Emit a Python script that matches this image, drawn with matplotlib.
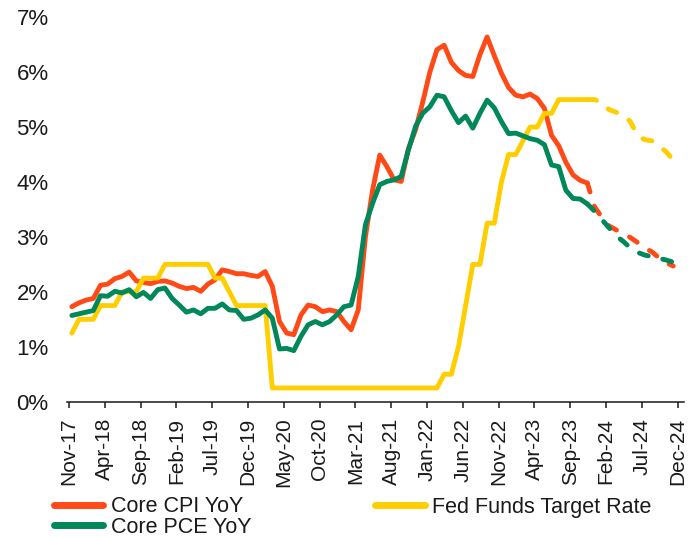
import numpy as np
import matplotlib.pyplot as plt
from matplotlib.lines import Line2D

plt.rcParams['font.family'] = ['Liberation Sans', 'DejaVu Sans']

# monthly, Nov-17 .. Dec-24
tick_labels = ['Nov-17', 'Apr-18', 'Sep-18', 'Feb-19', 'Jul-19', 'Dec-19',
               'May-20', 'Oct-20', 'Mar-21', 'Aug-21', 'Jan-22', 'Jun-22',
               'Nov-22', 'Apr-23', 'Sep-23', 'Feb-24', 'Jul-24', 'Dec-24']

# actuals, Nov-17 .. Nov-23
core_cpi = [1.73, 1.80, 1.85, 1.88, 2.12, 2.14, 2.24, 2.28, 2.36, 2.20,
            2.17, 2.15, 2.19, 2.20, 2.16, 2.10, 2.06, 2.08, 2.01, 2.14,
            2.22, 2.40, 2.37, 2.33, 2.33, 2.30, 2.28, 2.37, 2.10, 1.46,
            1.25, 1.22, 1.58, 1.76, 1.73, 1.64, 1.67, 1.64, 1.46, 1.31,
            1.67, 3.00, 3.85, 4.49, 4.28, 4.04, 4.01, 4.60, 4.95, 5.45,
            6.00, 6.41, 6.49, 6.18, 6.03, 5.94, 5.92, 6.32, 6.64, 6.30,
            5.98, 5.72, 5.58, 5.55, 5.60, 5.52, 5.34, 4.85, 4.66, 4.36,
            4.13, 4.03, 3.98]
core_pce = [1.57, 1.60, 1.63, 1.66, 1.93, 1.92, 2.01, 1.98, 2.04, 1.91,
            1.99, 1.88, 2.04, 2.07, 1.88, 1.76, 1.63, 1.67, 1.60, 1.70,
            1.70, 1.78, 1.67, 1.66, 1.50, 1.52, 1.58, 1.67, 1.52, 0.96,
            0.97, 0.93, 1.19, 1.40, 1.46, 1.40, 1.46, 1.58, 1.73, 1.76,
            2.28, 3.22, 3.61, 3.95, 4.01, 4.04, 4.10, 4.58, 5.01, 5.25,
            5.37, 5.58, 5.55, 5.30, 5.08, 5.20, 4.98, 5.25, 5.49, 5.35,
            5.10, 4.88, 4.89, 4.84, 4.79, 4.76, 4.68, 4.31, 4.28, 3.85,
            3.70, 3.69, 3.60]
fed_funds = [1.25, 1.50, 1.50, 1.50, 1.75, 1.75, 1.75, 2.00, 2.00, 2.00,
             2.25, 2.25, 2.25, 2.50, 2.50, 2.50, 2.50, 2.50, 2.50, 2.50,
             2.25, 2.25, 2.00, 1.75, 1.75, 1.75, 1.75, 1.75, 0.25, 0.25,
             0.25, 0.25, 0.25, 0.25, 0.25, 0.25, 0.25, 0.25, 0.25, 0.25,
             0.25, 0.25, 0.25, 0.25, 0.25, 0.25, 0.25, 0.25, 0.25, 0.25,
             0.25, 0.25, 0.50, 0.50, 1.00, 1.75, 2.50, 2.50, 3.25, 3.25,
             4.00, 4.50, 4.50, 4.75, 5.00, 5.00, 5.25, 5.25, 5.50, 5.50,
             5.50, 5.50, 5.50]

# projections, starting from the last actual (Nov-23)
core_cpi_fcst = [3.98, 3.55, 3.36, 3.20, 3.13, 3.06, 2.99, 2.90, 2.80,
                 2.73, 2.62, 2.53, 2.47]
core_pce_fcst = [3.60, 3.47, 3.32, 3.17, 3.02, 2.92, 2.80, 2.72, 2.67,
                 2.64, 2.61, 2.58, 2.54, 2.51]
fed_funds_fcst = [5.50, 5.50, 5.45, 5.32, 5.27, 5.23, 5.10, 4.85, 4.77,
                  4.75, 4.66, 4.55, 4.40, 4.30]

RED = '#FF4A17'
GREEN = '#00875A'
YELLOW = '#FFCE00'
INK = '#1a1a1a'

MID = 0.4  # points sit mid-month, ticks at month start
n_act = len(core_cpi)
x_act = np.arange(n_act) + MID
start = n_act - 1

fig = plt.figure(figsize=(6.99, 5.38), dpi=100)
ax = fig.add_axes([66.7 / 699, 1 - 401.7 / 538, (684 - 66.7) / 699, (401.7 - 17.2) / 538])

lw = 3.5
dash = dict(lw=lw, dashes=(1.9, 3.05), dash_capstyle='round', solid_joinstyle='round')
solid = dict(lw=lw, solid_capstyle='round', solid_joinstyle='round')

ax.plot(x_act, core_cpi, color=RED, **solid)
ax.plot(np.arange(len(core_cpi_fcst)) + start + MID, core_cpi_fcst, color=RED, **dash)
ax.plot(x_act, fed_funds, color=YELLOW, **solid)
ax.plot(np.arange(len(fed_funds_fcst)) + start + MID, fed_funds_fcst, color=YELLOW, **dash)
ax.plot(x_act, core_pce, color=GREEN, **solid)
ax.plot(np.arange(len(core_pce_fcst)) + start + MID, core_pce_fcst, color=GREEN, **dash)

ax.set_xlim(-0.32, 85.9)
ax.set_ylim(0, 7)
ax.set_xticks(np.arange(len(tick_labels)) * 5)
ax.set_xticklabels(tick_labels, rotation=90, fontsize=15, color=INK)
ax.set_yticks(range(8))
ax.set_yticklabels([f'{v}%' for v in range(8)], fontsize=16, color=INK)
ax.tick_params(axis='y', length=0, pad=13)
ax.tick_params(axis='x', length=4, width=1.1, color=INK, pad=7.5)

for s in ['top', 'right', 'left']:
    ax.spines[s].set_visible(False)
ax.spines['bottom'].set_color(INK)
ax.spines['bottom'].set_linewidth(1.1)

h_cpi = Line2D([], [], color=RED, lw=5, solid_capstyle='round')
h_pce = Line2D([], [], color=GREEN, lw=5, solid_capstyle='round')
h_fed = Line2D([], [], color=YELLOW, lw=5, solid_capstyle='round')

leg_kw = dict(frameon=False, fontsize=15.5, handlelength=2.32, handletextpad=0.35,
              borderpad=0, borderaxespad=0, labelspacing=-0.04, labelcolor=INK)
fig.legend([h_cpi, h_pce], ['Core CPI YoY', 'Core PCE YoY'], loc='upper left',
           bbox_to_anchor=(53.5 / 699, 1 - 496.5 / 538), **leg_kw)
fig.legend([h_fed], ['Fed Funds Target Rate'], loc='upper left',
           bbox_to_anchor=(375 / 699, 1 - 496.5 / 538), **leg_kw)

fig.savefig('out.png', dpi=100)
